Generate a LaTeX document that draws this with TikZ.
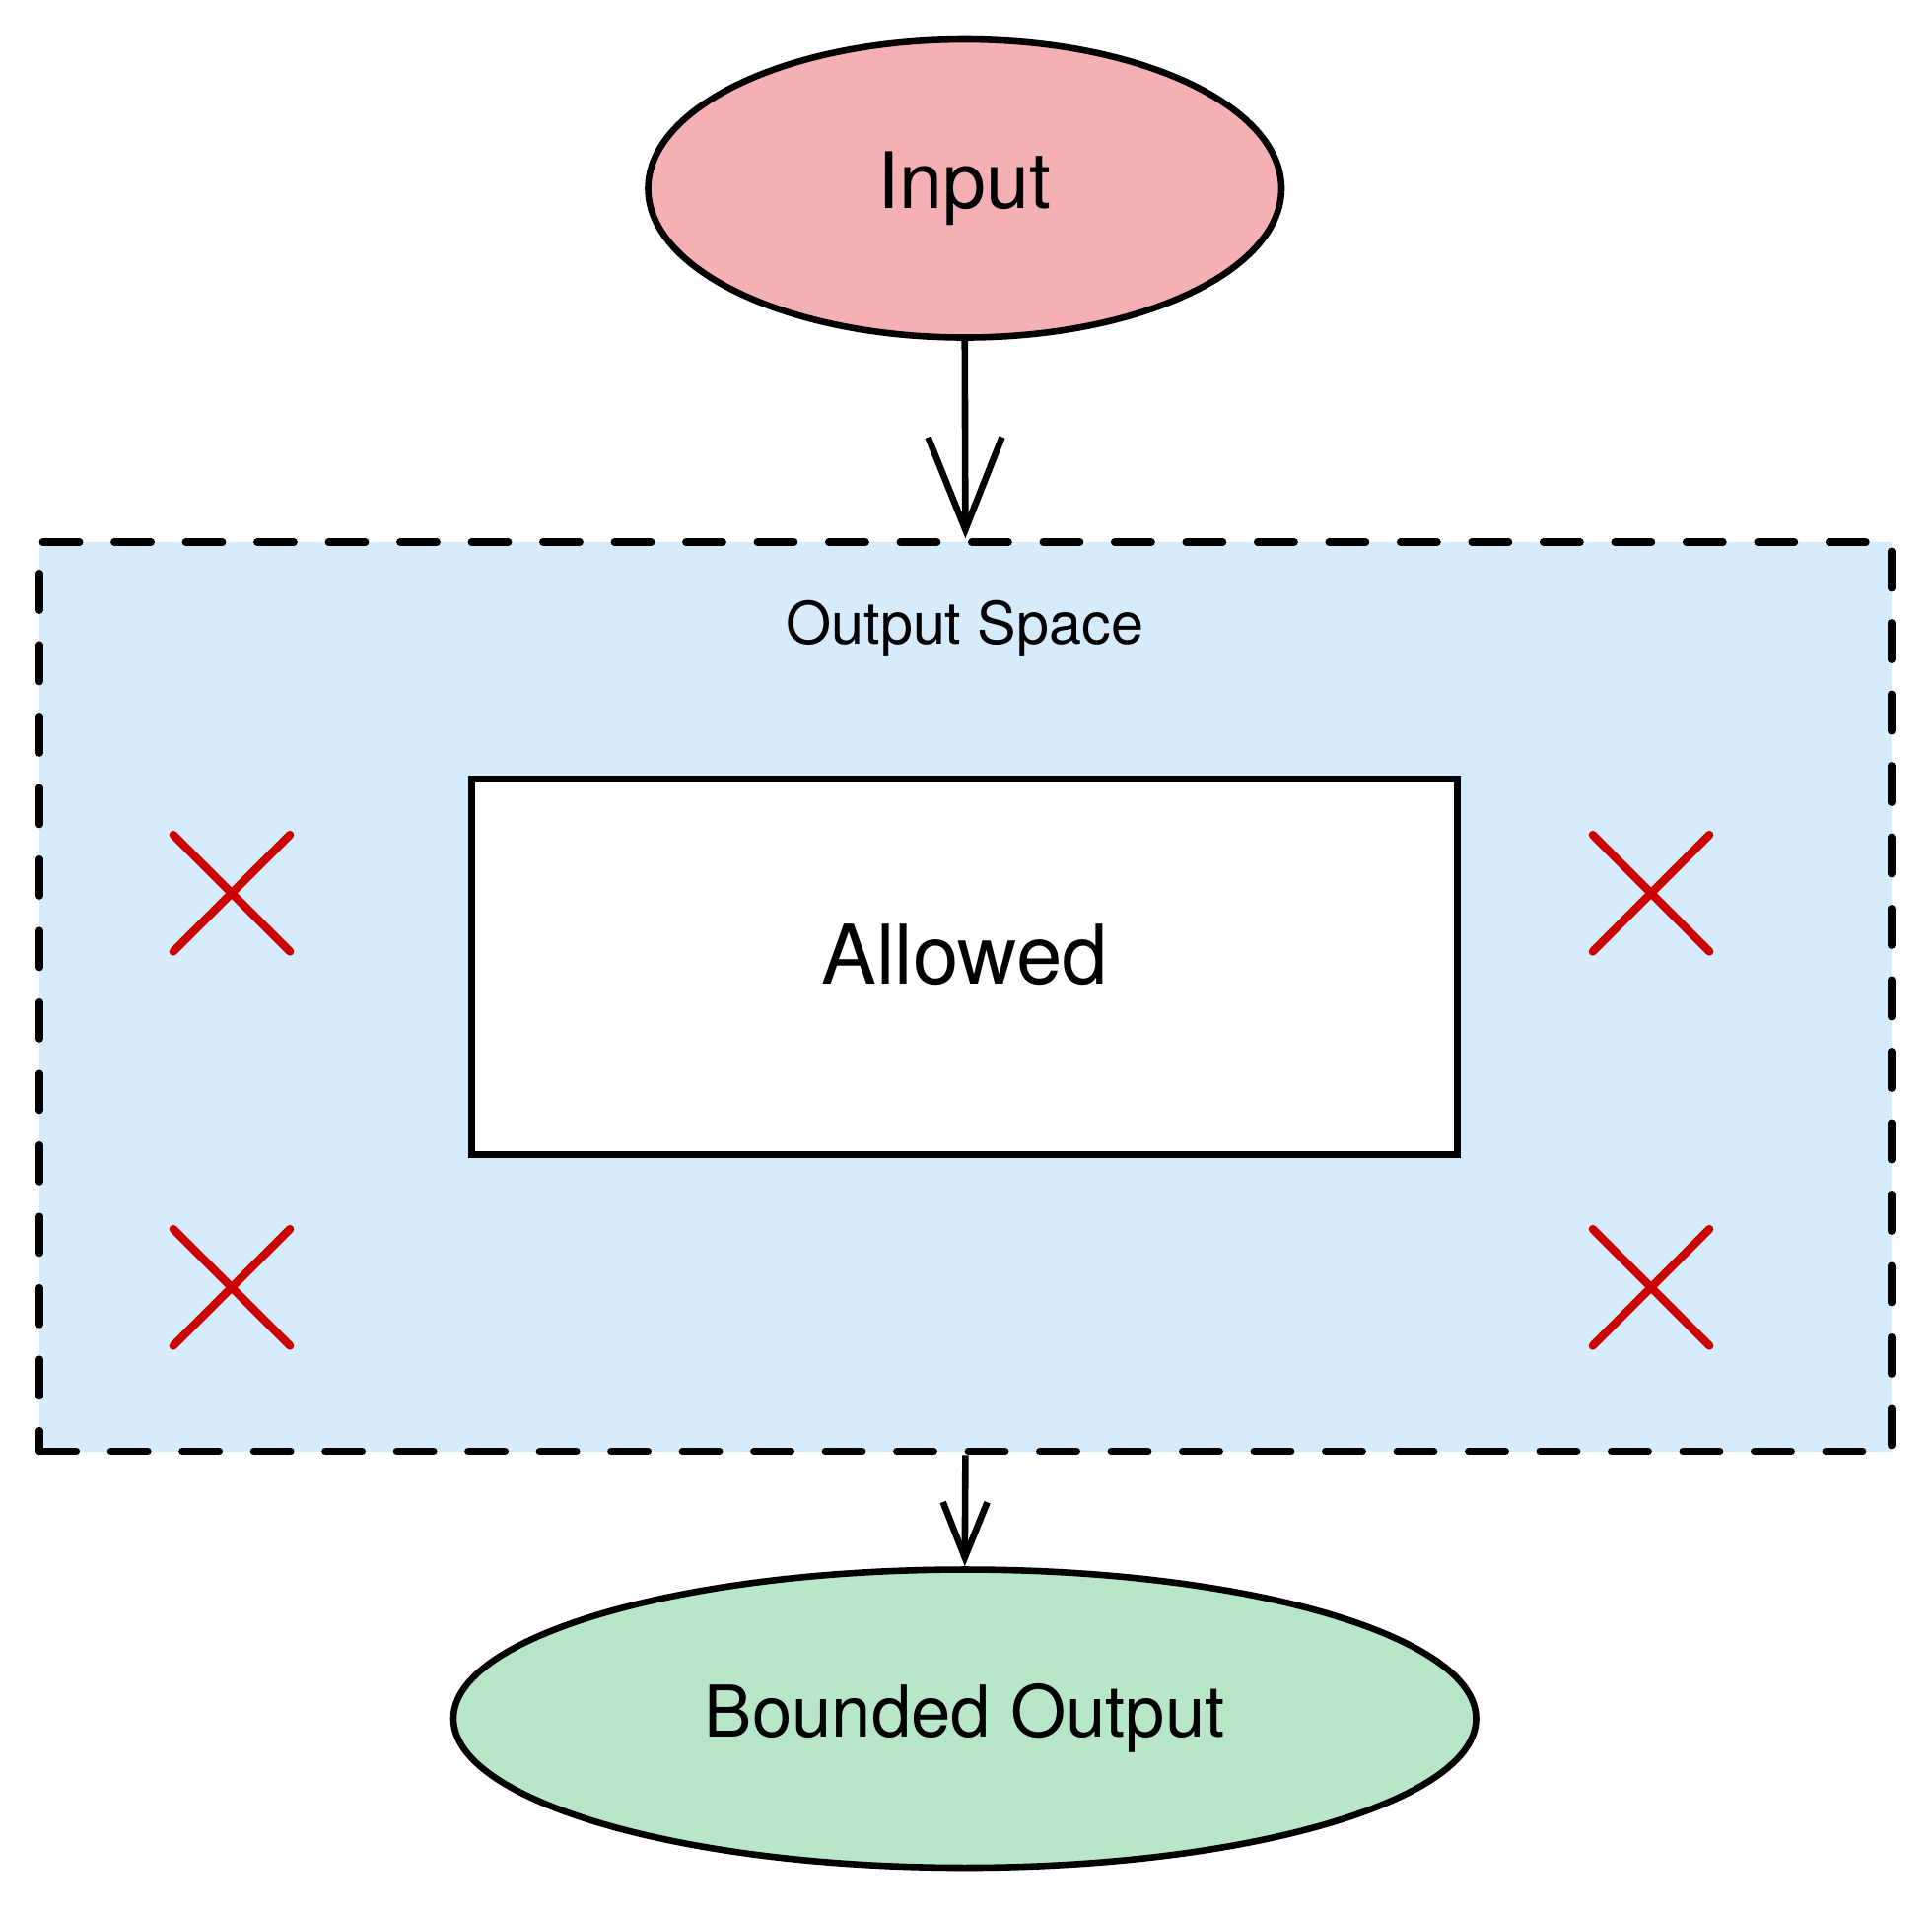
\documentclass[tikz,border=0pt]{standalone}
\usepackage{fontspec}
\setmainfont{TeX Gyre Heros}
\usetikzlibrary{shapes.geometric,shapes.misc,arrows.meta}
\definecolor{inred}{HTML}{F4B0B2}
\definecolor{outgreen}{HTML}{B8E6C8}
\definecolor{spaceblue}{HTML}{D6ECFD}
\definecolor{xred}{HTML}{CC0000}
\tikzset{
  blob/.style={draw, ellipse, line width=1.5pt, inner sep=0pt},
  nope/.style={cross out, draw=xred, line width=1.9pt, line cap=round, minimum size=0.88cm, inner sep=0pt},
  flow/.style={line width=1.5pt},
}
\begin{document}
\begin{tikzpicture}
  \useasboundingbox (0,0) rectangle (15.68,-15.49);
  % output space
  \node (space) [draw, dash pattern=on 8.5pt off 8pt, line width=1.7pt, line cap=round, fill=spaceblue,
        minimum width=15.03cm, minimum height=7.38cm, inner sep=0pt] at (7.835,-8.09) {};
  \node (spacelbl) at (7.83,-5.1) {\fontsize{13.5}{16}\selectfont Output Space};
  \node (allowed) [draw, fill=white, line width=1.5pt, minimum width=8cm, minimum height=3.05cm] at (7.83,-7.845) {};
  \node at (7.83,-7.75) {\fontsize{19}{23}\selectfont Allowed};
  \node (x1) [nope] at (1.88,-7.25) {};
  \node (x2) [nope] at (1.88,-10.45) {};
  \node (x3) [nope] at (13.40,-7.25) {};
  \node (x4) [nope] at (13.40,-10.45) {};
  % ends
  \node (in) [blob, fill=inred, minimum width=5.14cm, minimum height=2.42cm] at (7.83,-1.53) {\fontsize{18}{22}\selectfont Input};
  \node (out) [blob, fill=outgreen, minimum width=8.30cm, minimum height=2.42cm] at (7.83,-13.95) {\fontsize{16.5}{20}\selectfont Bounded Output};
  \draw[flow, -{Straight Barb[length=0.75cm,width=0.6cm,line width=1.5pt]}] (in.south) -- (space.north);
  \draw[flow, -{Straight Barb[length=0.45cm,width=0.36cm,line width=1.5pt]}] (space.south) -- (out.north);
\end{tikzpicture}
\end{document}
